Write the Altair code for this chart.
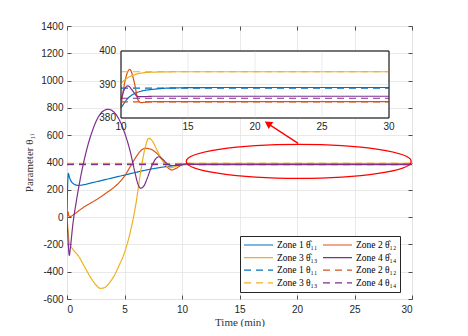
import altair as alt
import pandas as pd

BLUE, ORANGE, YELLOW, PURPLE = "#0072BD", "#D95319", "#EDB120", "#7E2F8E"
FRAME = "#262626"

# ---- estimated parameters (solid lines) ----
t_z1 = [0, 0.04, 0.12, 0.2, 0.4, 0.7, 1.0, 1.5, 2, 3, 4, 5, 6, 7, 8, 9, 10, 10.5, 11, 11.5, 12.5, 14, 17, 30]
v_z1 = [0, 180, 320, 295, 258, 238, 232, 238, 248, 268, 288, 308, 328, 347, 362, 374, 383.0, 385.8, 387.3, 388.0, 388.6, 389.0, 389.1, 389.1]

t_z2 = [0, 0.08, 0.15, 0.3, 0.6, 1, 1.5, 2, 2.5, 3, 3.5, 4, 4.5, 5, 5.5, 6, 6.4, 6.8, 7.2, 7.6, 8.0, 8.4, 8.8, 9.1, 9.5, 10, 10.3, 10.65, 11.0, 11.27, 11.5, 12, 13, 30]
v_z2 = [0, 40, 10, 5, 20, 45, 75, 100, 125, 152, 182, 212, 250, 300, 370, 440, 485, 504, 500, 482, 450, 405, 360, 345, 358, 383.4, 391, 394.5, 390.5, 385.4, 384.6, 384.8, 384.9, 384.9]

t_z3 = [0, 0.1, 0.2, 0.5, 1, 1.5, 2, 2.5, 2.9, 3.3, 3.7, 4.1, 4.5, 5, 5.5, 6, 6.4, 6.8, 7.1, 7.4, 7.8, 8.2, 8.6, 9.0, 9.4, 9.8, 10, 10.5, 11, 11.5, 12.5, 14, 30]
v_z3 = [0, -100, -190, -235, -285, -360, -435, -495, -522, -515, -480, -430, -360, -260, -110, 100, 330, 510, 577, 560, 495, 430, 380, 362, 370, 385, 390.4, 392.0, 392.9, 393.4, 393.7, 393.8, 393.8]

t_z4 = [0, 0.1, 0.2, 0.3, 0.5, 0.8, 1.2, 1.7, 2.2, 2.7, 3.2, 3.6, 4.0, 4.5, 5.0, 5.5, 5.9, 6.2, 6.4, 6.7, 7.0, 7.4, 7.8, 8.0, 8.3, 8.7, 9.1, 9.5, 10, 10.25, 10.52, 10.8, 11.27, 11.7, 12.5, 30]
v_z4 = [0, -180, -280, -220, -60, 110, 300, 490, 630, 730, 780, 790, 775, 720, 620, 480, 330, 235, 211, 230, 290, 380, 435, 442, 425, 392, 378, 378, 385.5, 388.5, 389.6, 388.5, 386.4, 386.4, 386.5, 386.5]

# ---- true parameters (dashed lines) ----
t_true = [0, 10, 30]
theta_true = [388.9, 384.8, 393.8, 385.9]

hat_names = ["Zone 1 θ̂₁₁", "Zone 2 θ̂₁₂", "Zone 3 θ̂₁₃", "Zone 4 θ̂₁₄"]
true_names = ["Zone 1 θ₁₁", "Zone 2 θ₁₂", "Zone 3 θ₁₃", "Zone 4 θ₁₄"]
zone_colors = [BLUE, ORANGE, YELLOW, PURPLE]

# legend order (2 columns, row-major)
legend_order = [hat_names[0], hat_names[2], true_names[0], true_names[2],
                hat_names[1], hat_names[3], true_names[1], true_names[3]]
draw_order = [hat_names[0], true_names[0], hat_names[1], true_names[1],
              hat_names[2], true_names[2], hat_names[3], true_names[3]]

style = {}
for i in range(4):
    style[hat_names[i]] = (zone_colors[i], [1, 0], 1.2)
    style[true_names[i]] = (zone_colors[i], [7, 5], 2.8)

rows = []
for name, ts, vs in zip(hat_names, [t_z1, t_z2, t_z3, t_z4], [v_z1, v_z2, v_z3, v_z4]):
    for t, v in zip(ts, vs):
        rows.append({"s": name, "t": t, "v": v})
for name, th in zip(true_names, theta_true):
    for t in t_true:
        rows.append({"s": name, "t": t, "v": th})
df = pd.DataFrame(rows)

# ---- axes / ticks ----
x_ticks = [0, 5, 10, 15, 20, 25, 30]
y_ticks = list(range(-600, 1401, 200))
inset_x_ticks = [10, 15, 20, 25, 30]
inset_y_ticks = [380, 390, 400]
inset_x_dom = [10, 30]
inset_y_dom = [380, 400]

# ---- annotation (ellipse and arrow) ----
ellipse_t, ellipse_v = [20.15], [408]
arrow_t0, arrow_v0 = [20.1], [540]
arrow_t1, arrow_v1 = [17.47], [685]

W, H = 345, 273
xs = alt.Scale(domain=[0, 30], nice=False, zero=False)
ys = alt.Scale(domain=[-600, 1400], nice=False, zero=False)
ixs = alt.Scale(domain=inset_x_dom, range=[54, 322], nice=False, zero=False)
iys = alt.Scale(domain=inset_y_dom, range=[92, 25], nice=False, zero=False)

cscale = alt.Scale(domain=legend_order, range=[style[n][0] for n in legend_order])
dscale = alt.Scale(domain=legend_order, range=[style[n][1] for n in legend_order])
wscale = alt.Scale(domain=legend_order, range=[style[n][2] for n in legend_order])

leg = alt.Legend(orient="none", legendX=173, legendY=210, columns=2,
                 symbolType="stroke", symbolSize=841, clipHeight=12,
                 rowPadding=0.6, columnPadding=4, padding=3,
                 labelFont="Liberation Serif", labelFontSize=9.5, labelColor="black",
                 labelOffset=3, fillColor="white", strokeColor=FRAME)


def series_layer(name, x_scale, y_scale, data):
    return alt.Chart(data).transform_filter(alt.datum.s == name).mark_line(
        interpolate="monotone", strokeCap="butt", clip=True
    ).encode(
        x=alt.X("t:Q", scale=x_scale, axis=None),
        y=alt.Y("v:Q", scale=y_scale, axis=None),
        color=alt.Color("s:N", scale=cscale, legend=leg, title=None),
        strokeDash=alt.StrokeDash("s:N", scale=dscale, legend=leg, title=None),
        strokeWidth=alt.StrokeWidth("s:N", scale=wscale, legend=leg, title=None),
        order=alt.Order("t:Q"),
    )


lab = dict(labelFont="Liberation Sans", labelFontSize=10, labelColor=FRAME, labelExpr="datum.value + ''")
ttl = dict(titleFont="Liberation Serif", titleFontSize=11, titleColor="#333333", titleFontWeight="normal")

axis_layer = alt.Chart(df).mark_point(opacity=0).encode(
    x=alt.X("t:Q", scale=xs, title="Time (min)",
            axis=alt.Axis(orient="bottom", values=x_ticks, grid=True, gridColor="#e3e3e3", gridWidth=0.8,
                          ticks=False, tickSize=0, domain=False, labelPadding=5, titlePadding=2, **lab, **ttl)),
    y=alt.Y("v:Q", scale=ys, title="Parameter θ₁ᵢ",
            axis=alt.Axis(orient="left", values=y_ticks, grid=True, gridColor="#e3e3e3", gridWidth=0.8,
                          ticks=False, tickSize=0, domain=False, labelPadding=4, titlePadding=6, **lab, **ttl)),
)

tickcfg = dict(labels=False, grid=False, domain=False, ticks=True, tickSize=4, tickColor=FRAME, tickWidth=0.8, title=None)
tick_layer1 = alt.Chart(df).mark_point(opacity=0).encode(
    x=alt.X("t:Q", scale=xs, axis=alt.Axis(orient="bottom", offset=-4, values=x_ticks, **tickcfg)),
    y=alt.Y("v:Q", scale=ys, axis=alt.Axis(orient="left", offset=-4, values=y_ticks, **tickcfg)),
)
tick_layer2 = alt.Chart(df).mark_point(opacity=0).encode(
    x=alt.X("t:Q", scale=xs, axis=alt.Axis(orient="top", offset=-4, values=x_ticks, **tickcfg)),
    y=alt.Y("v:Q", scale=ys, axis=alt.Axis(orient="right", offset=-4, values=y_ticks, **tickcfg)),
)

main_series = [series_layer(n, xs, ys, df) for n in draw_order]

ell_df = pd.DataFrame({"t": ellipse_t, "v": ellipse_v})
ELLIPSE = ("M -1 0 C -1 -0.0834 -0.5523 -0.151 0 -0.151 C 0.5523 -0.151 1 -0.0834 1 0 "
           "C 1 0.0834 0.5523 0.151 0 0.151 C -0.5523 0.151 -1 0.0834 -1 0 Z")
ellipse = alt.Chart(ell_df).mark_point(shape=ELLIPSE, size=50625, filled=False, stroke="#FF0000",
                                       strokeWidth=1.3, opacity=1).encode(
    x=alt.X("t:Q", scale=xs, axis=None), y=alt.Y("v:Q", scale=ys, axis=None))

arr_df = pd.DataFrame({"t0": arrow_t0, "v0": arrow_v0, "t1": arrow_t1, "v1": arrow_v1})
arrow = alt.Chart(arr_df).mark_rule(color="#FF0000", strokeWidth=1.3).encode(
    x=alt.X("t0:Q", scale=xs, axis=None), y=alt.Y("v0:Q", scale=ys, axis=None),
    x2="t1:Q", y2="v1:Q")
head = alt.Chart(arr_df).mark_point(shape="triangle-up", size=70, filled=True, color="#FF0000",
                                    opacity=1, angle=303).encode(
    x=alt.X("t1:Q", scale=xs, axis=None), y=alt.Y("v1:Q", scale=ys, axis=None))

main = alt.layer(axis_layer, tick_layer1, tick_layer2, *main_series, ellipse, arrow, head).resolve_axis(
    x="independent", y="independent")

# ---- inset ----
box_df = pd.DataFrame({"x0": [inset_x_dom[0]], "x1": [inset_x_dom[1]],
                       "y0": [inset_y_dom[0]], "y1": [inset_y_dom[1]]})
inset_bg = alt.Chart(box_df).mark_rect(fill="white", stroke=FRAME, strokeWidth=0.8).encode(
    x=alt.X("x0:Q", scale=ixs, axis=None), x2="x1:Q",
    y=alt.Y("y0:Q", scale=iys, axis=None), y2="y1:Q",
)
vg_df = pd.DataFrame({"t": inset_x_ticks[1:-1], "lo": [inset_y_dom[0]] * 3, "hi": [inset_y_dom[1]] * 3})
inset_vgrid = alt.Chart(vg_df).mark_rule(color="#e6e6e6", strokeWidth=0.8).encode(
    x=alt.X("t:Q", scale=ixs, axis=None), y=alt.Y("lo:Q", scale=iys, axis=None), y2="hi:Q")
hg_df = pd.DataFrame({"v": [inset_y_ticks[1]], "a": [inset_x_dom[0]], "b": [inset_x_dom[1]]})
inset_hgrid = alt.Chart(hg_df).mark_rule(color="#e6e6e6", strokeWidth=0.8).encode(
    y=alt.Y("v:Q", scale=iys, axis=None), x=alt.X("a:Q", scale=ixs, axis=None), x2="b:Q")

df_in = df[df["t"] >= 10]
inset_series = [series_layer(n, ixs, iys, df_in) for n in draw_order]
inset_frame = alt.Chart(box_df).mark_rect(fill=None, filled=False, stroke=FRAME, strokeWidth=0.8).encode(
    x=alt.X("x0:Q", scale=ixs, axis=None), x2="x1:Q",
    y=alt.Y("y0:Q", scale=iys, axis=None), y2="y1:Q")

# inset tick labels
xl_df = pd.DataFrame({"t": inset_x_ticks, "v": [inset_y_dom[0]] * len(inset_x_ticks),
                      "lab": [str(v) for v in inset_x_ticks]})
yl_df = pd.DataFrame({"t": [inset_x_dom[0]] * len(inset_y_ticks), "v": inset_y_ticks,
                      "lab": [str(v) for v in inset_y_ticks]})
inset_xlab = alt.Chart(xl_df).mark_text(font="Liberation Sans", fontSize=10, color=FRAME,
                                        baseline="top", align="center", dy=4).encode(
    x=alt.X("t:Q", scale=ixs, axis=None), y=alt.Y("v:Q", scale=iys, axis=None), text="lab:N")
inset_ylab = alt.Chart(yl_df).mark_text(font="Liberation Sans", fontSize=10, color=FRAME,
                                        baseline="middle", align="right", dx=-5).encode(
    x=alt.X("t:Q", scale=ixs, axis=None), y=alt.Y("v:Q", scale=iys, axis=None), text="lab:N")

inset = alt.layer(inset_bg, inset_vgrid, inset_hgrid, *inset_series, inset_frame, inset_xlab, inset_ylab)

chart = alt.layer(main, inset).resolve_scale(x="independent", y="independent").properties(
    width=W, height=H,
    padding={"left": 59, "top": 18, "right": 40, "bottom": 28},
    autosize=alt.AutoSizeParams(type="none"),
).configure_view(stroke=FRAME, strokeWidth=0.8).configure(background="white")

chart.save("out.html", embed_options={"renderer": "svg", "actions": False})
